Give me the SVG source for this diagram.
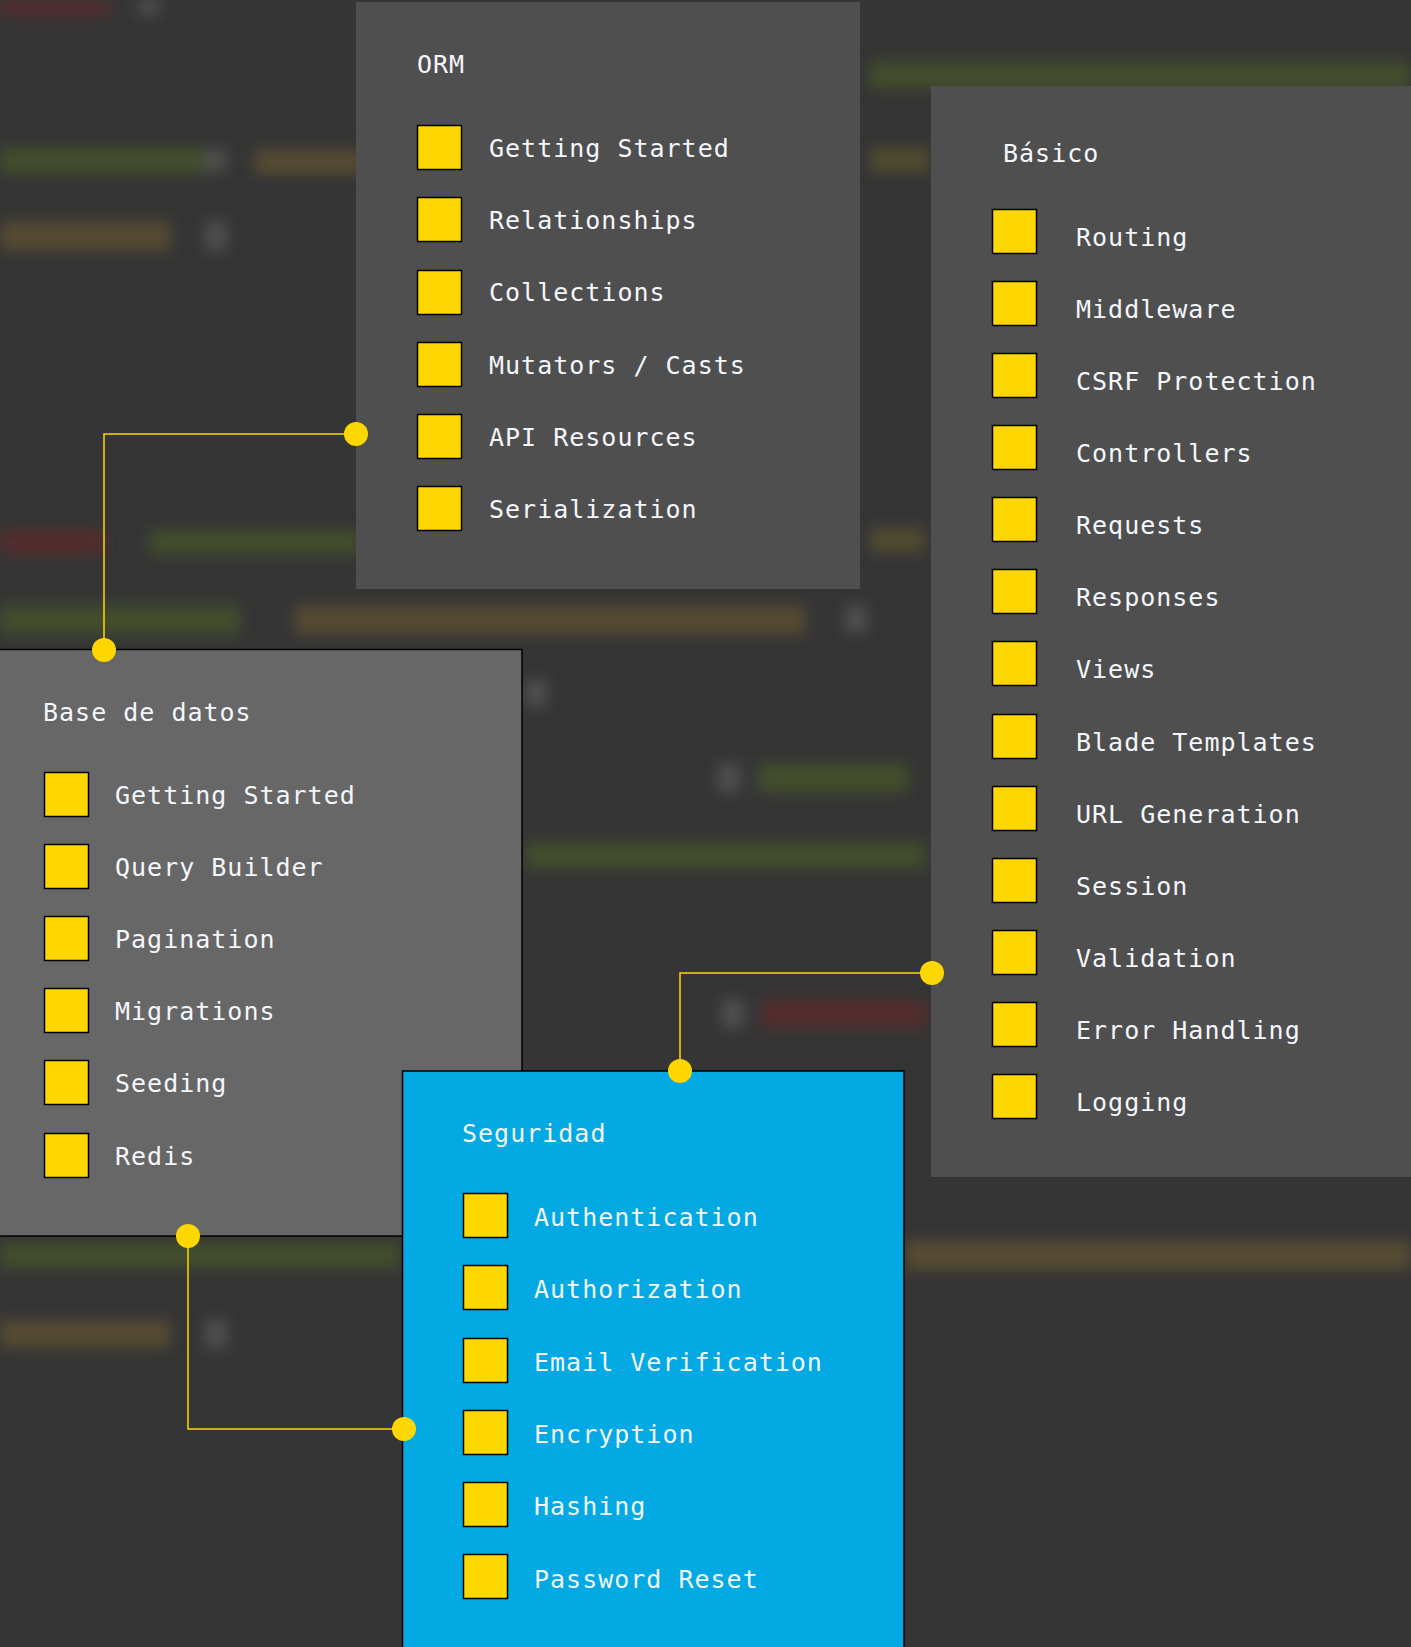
<svg xmlns="http://www.w3.org/2000/svg" width="1411" height="1647" viewBox="0 0 1411 1647">
<defs>
<filter id="blur" x="-20%" y="-100%" width="140%" height="300%"><feGaussianBlur stdDeviation="7"/></filter>
<style>
.panel-dark{fill:#4f4f4f}
.panel-db{fill:#676767;stroke:#000;stroke-width:1.5}
.panel-sec{fill:#02a9e3;stroke:#000;stroke-width:1.5}
.box{fill:#ffd700;stroke:#000;stroke-width:1.5}
.t{font-family:"DejaVu Sans Mono","Liberation Mono",monospace;font-size:25px;letter-spacing:1px;fill:#f3f6fb}
.wire{fill:none;stroke:#ffd700;stroke-width:1.5}
.dot{fill:#ffd700}
</style>
</defs>
<rect x="0" y="0" width="1411" height="1647" fill="#353535"/>
<g id="background" filter="url(#blur)" opacity="0.85">
<rect x="0" y="0" width="110" height="16" fill="#5a2b2b"/>
<rect x="138" y="0" width="22" height="14" fill="#555"/>
<rect x="0" y="148" width="210" height="26" fill="#44522c"/>
<rect x="205" y="150" width="22" height="20" fill="#555"/>
<rect x="255" y="150" width="110" height="24" fill="#5b5030"/>
<rect x="870" y="148" width="60" height="24" fill="#55502e"/>
<rect x="870" y="62" width="541" height="26" fill="#46532c"/>
<rect x="0" y="222" width="170" height="28" fill="#5b5030"/>
<rect x="205" y="222" width="22" height="28" fill="#555"/>
<rect x="0" y="530" width="105" height="24" fill="#5a2b2b"/>
<rect x="150" y="530" width="210" height="24" fill="#44522c"/>
<rect x="870" y="528" width="55" height="24" fill="#55502e"/>
<rect x="0" y="606" width="240" height="28" fill="#44522c"/>
<rect x="295" y="606" width="510" height="28" fill="#5b5030"/>
<rect x="845" y="606" width="22" height="26" fill="#555"/>
<rect x="525" y="680" width="22" height="26" fill="#555"/>
<rect x="718" y="764" width="22" height="28" fill="#555"/>
<rect x="758" y="764" width="150" height="28" fill="#44522c"/>
<rect x="525" y="842" width="400" height="26" fill="#44522c"/>
<rect x="722" y="1000" width="22" height="28" fill="#555"/>
<rect x="762" y="1000" width="165" height="28" fill="#5a2b2b"/>
<rect x="0" y="1242" width="400" height="26" fill="#44522c"/>
<rect x="905" y="1240" width="506" height="30" fill="#5b5030"/>
<rect x="0" y="1320" width="170" height="28" fill="#5b5030"/>
<rect x="205" y="1320" width="22" height="28" fill="#555"/>
</g>
<g id="orm">
<rect class="panel-dark" x="356" y="2" width="504" height="587"/>
<text class="t" x="417" y="73">ORM</text>
<rect class="box" x="417.5" y="125.5" width="44" height="44"/><text class="t" x="489" y="157">Getting Started</text>
<rect class="box" x="417.5" y="197.5" width="44" height="44"/><text class="t" x="489" y="229">Relationships</text>
<rect class="box" x="417.5" y="270.5" width="44" height="44"/><text class="t" x="489" y="301">Collections</text>
<rect class="box" x="417.5" y="342.5" width="44" height="44"/><text class="t" x="489" y="374">Mutators / Casts</text>
<rect class="box" x="417.5" y="414.5" width="44" height="44"/><text class="t" x="489" y="446">API Resources</text>
<rect class="box" x="417.5" y="486.5" width="44" height="44"/><text class="t" x="489" y="518">Serialization</text>
</g>
<g id="basico">
<rect class="panel-dark" x="931" y="86" width="480" height="1091"/>
<text class="t" x="1003" y="162">Básico</text>
<rect class="box" x="992.5" y="209.5" width="44" height="44"/><text class="t" x="1076" y="246">Routing</text>
<rect class="box" x="992.5" y="281.5" width="44" height="44"/><text class="t" x="1076" y="318">Middleware</text>
<rect class="box" x="992.5" y="353.5" width="44" height="44"/><text class="t" x="1076" y="390">CSRF Protection</text>
<rect class="box" x="992.5" y="425.5" width="44" height="44"/><text class="t" x="1076" y="462">Controllers</text>
<rect class="box" x="992.5" y="497.5" width="44" height="44"/><text class="t" x="1076" y="534">Requests</text>
<rect class="box" x="992.5" y="569.5" width="44" height="44"/><text class="t" x="1076" y="606">Responses</text>
<rect class="box" x="992.5" y="641.5" width="44" height="44"/><text class="t" x="1076" y="678">Views</text>
<rect class="box" x="992.5" y="714.5" width="44" height="44"/><text class="t" x="1076" y="751">Blade Templates</text>
<rect class="box" x="992.5" y="786.5" width="44" height="44"/><text class="t" x="1076" y="823">URL Generation</text>
<rect class="box" x="992.5" y="858.5" width="44" height="44"/><text class="t" x="1076" y="895">Session</text>
<rect class="box" x="992.5" y="930.5" width="44" height="44"/><text class="t" x="1076" y="967">Validation</text>
<rect class="box" x="992.5" y="1002.5" width="44" height="44"/><text class="t" x="1076" y="1039">Error Handling</text>
<rect class="box" x="992.5" y="1074.5" width="44" height="44"/><text class="t" x="1076" y="1111">Logging</text>
</g>
<g id="base-de-datos">
<rect class="panel-db" x="-2" y="649.5" width="524" height="586.5"/>
<text class="t" x="43" y="721">Base de datos</text>
<rect class="box" x="44.5" y="772.5" width="44" height="44"/><text class="t" x="115" y="804">Getting Started</text>
<rect class="box" x="44.5" y="844.5" width="44" height="44"/><text class="t" x="115" y="876">Query Builder</text>
<rect class="box" x="44.5" y="916.5" width="44" height="44"/><text class="t" x="115" y="948">Pagination</text>
<rect class="box" x="44.5" y="988.5" width="44" height="44"/><text class="t" x="115" y="1020">Migrations</text>
<rect class="box" x="44.5" y="1060.5" width="44" height="44"/><text class="t" x="115" y="1092">Seeding</text>
<rect class="box" x="44.5" y="1133.5" width="44" height="44"/><text class="t" x="115" y="1165">Redis</text>
</g>
<g id="seguridad">
<rect class="panel-sec" x="402.5" y="1071" width="501.5" height="590"/>
<text class="t" x="462" y="1142">Seguridad</text>
<rect class="box" x="463.5" y="1193.5" width="44" height="44"/><text class="t" x="534" y="1226">Authentication</text>
<rect class="box" x="463.5" y="1265.5" width="44" height="44"/><text class="t" x="534" y="1298">Authorization</text>
<rect class="box" x="463.5" y="1338.5" width="44" height="44"/><text class="t" x="534" y="1371">Email Verification</text>
<rect class="box" x="463.5" y="1410.5" width="44" height="44"/><text class="t" x="534" y="1443">Encryption</text>
<rect class="box" x="463.5" y="1482.5" width="44" height="44"/><text class="t" x="534" y="1515">Hashing</text>
<rect class="box" x="463.5" y="1554.5" width="44" height="44"/><text class="t" x="534" y="1588">Password Reset</text>
</g>
<g id="connectors">
<polyline class="wire" points="356,434 104,434 104,650"/>
<circle class="dot" cx="356" cy="434" r="12"/>
<circle class="dot" cx="104" cy="650" r="12"/>
<polyline class="wire" points="188,1236 188,1429 404,1429"/>
<circle class="dot" cx="188" cy="1236" r="12"/>
<circle class="dot" cx="404" cy="1429" r="12"/>
<polyline class="wire" points="680,1071 680,973 932,973"/>
<circle class="dot" cx="680" cy="1071" r="12"/>
<circle class="dot" cx="932" cy="973" r="12"/>
</g>
</svg>
